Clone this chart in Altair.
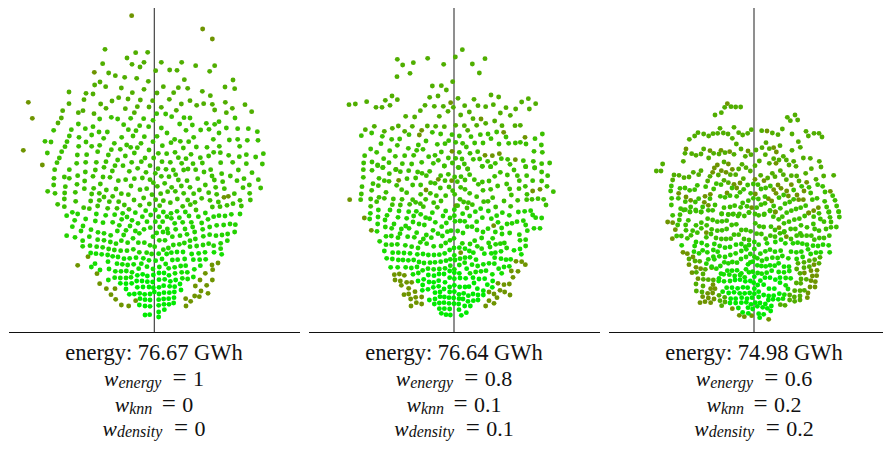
import altair as alt
import pandas as pd

# Point positions: (x, y) in 3x crop units, grouped by colour level.
P1_TOP_L0 = [(395,47),(608,87),(637,117),(85,307),(97,355),(70,451),(283,217),(127,495)]
P1_TOP_L1 = [(315,148),(407,158),(443,157),(381,174),(432,187),(396,193),(420,201),(308,191),(484,187),(545,187),(587,197),(644,197),(629,214),(467,212),(509,210),(531,211),(326,219),(346,227),(374,232),(410,235),(445,244),(300,246),(284,255),(317,260),(553,239),(699,240),(207,276),(258,280),(279,282),(364,264),(432,268),(397,278),(490,260),(535,263),(563,265),(521,278),(471,279),(607,274),(675,261),(704,266),(631,287),(252,299),(356,293),(384,297),(421,300),(458,302),(508,298),(570,302),(207,311),(336,303),(302,312),(318,325),(412,320),(447,321),(376,326),(544,312),(590,316),(611,311),(637,313),(676,307),(735,314),(188,332),(249,332),(235,338),(282,341),(403,338),(484,322),(529,331),(644,330),(697,325),(679,338),(755,335),(184,354),(174,369)]
P1_TOP_L2 = [(299,357),(334,352),(353,357),(392,355),(431,356),(470,341),(497,342),(515,350),(552,353),(570,354),(705,354),(235,372),(214,389),(161,391),(256,386),(279,380),(371,374),(419,377),(446,380),(459,361),(539,372),(577,375),(619,370),(644,373),(657,365),(484,384),(602,390),(627,388),(679,384),(713,386),(745,386),(772,395),(297,396),(322,396),(385,389),(408,392),(501,399),(558,391),(657,399),(275,405),(208,408),(135,424),(153,426),(237,412),(311,415),(365,412),(399,408),(433,410),(471,409),(524,418),(581,412),(640,418),(688,420),(713,418),(742,421),(774,421),(201,425),(258,426),(343,430),(423,430),(459,425),(513,428),(541,424),(566,425),(195,440),(236,439),(275,439),(299,436),(380,435),(392,442),(412,443),(487,437),(589,441),(621,442),(658,439),(719,439),(185,455),(142,459),(293,455),(334,449),(361,448),(447,450),(550,444),(525,457),(475,460),(500,461),(641,457),(661,458),(790,461),(178,474),(232,465),(260,464),(325,465),(376,468),(403,459),(435,474),(461,474),(535,473),(573,463),(601,473),(626,468),(686,466),(718,470),(739,464),(767,471),(558,476),(171,488),(230,490),(257,487),(289,487),(318,485),(353,480),(395,487),(424,485),(486,485),(511,487),(545,490),(579,491),(607,489),(662,488),(698,487),(739,491),(787,492)]
P1_BOT_L0 = [(233,301),(264,275),(291,326),(299,356),(319,371),(345,371),(333,389),(347,403),(364,420),(386,423),(407,407),(603,378),(624,385),(598,395),(584,393),(572,409),(557,401),(558,423),(586,363),(620,361),(637,345),(600,345),(616,325),(654,294),(636,300),(638,314),(672,97),(685,94)]
P1_BOT_L2 = [(164,14),(208,14),(256,21),(286,15),(312,7),(337,18),(345,2),(369,2),(388,19),(413,10),(438,22),(450,2),(466,25),(474,11),(498,13),(520,15),(527,29),(551,15),(564,12),(587,14),(612,21),(632,14),(665,26),(715,15),(756,23),(162,40),(193,36),(208,40),(233,32),(254,48),(279,34),(309,36),(330,37),(355,47),(377,44),(403,41),(427,39),(450,44),(460,53),(484,34),(507,35),(494,55),(535,45),(561,47),(593,41),(636,33),(643,45),(668,50),(691,33),(711,47),(732,41),(775,44),(161,60),(196,65),(231,58),(301,57),(393,63),(472,64),(515,67),(544,63),(570,67),(598,75),(616,60),(647,67),(673,71),(729,68),(748,60),(782,69),(143,79),(165,85),(194,84),(226,82),(253,71),(281,70),(275,87),(298,85),(319,75),(348,72),(364,86),(385,89),(420,74),(440,71),(456,89),(482,86),(503,80),(526,79),(551,85),(581,86),(626,83),(650,88),(703,86),(749,85),(751,105),(720,106),(193,102),(227,109),(272,108),(298,106),(312,96),(338,94),(402,105),(431,99),(467,104),(490,107),(532,102),(563,105),(605,100),(630,106),(655,111),(173,118),(193,125),(251,128),(268,131),(293,123),(328,110),(356,110),(323,130),(351,130),(373,120),(387,133),(420,121),(448,117),(479,122),(511,113),(548,124),(571,119),(585,112),(588,135),(637,126),(660,125),(681,121),(699,116),(724,123)]
P1_BOT_L3 = [(217,142),(200,152),(233,147),(289,147),(317,151),(344,149),(368,145),(381,156),(406,143),(437,137),(452,150),(466,135),(490,141),(476,155),(513,145),(531,139),(556,141),(567,153),(595,155),(616,144),(641,155),(657,152),(675,153),(694,148),(720,147),(224,166),(257,162),(286,168),(309,173),(338,172),(365,163),(396,166),(427,155),(414,175),(441,170),(466,170),(488,170),(501,155),(514,160),(538,158),(524,175),(548,172),(574,172),(605,174),(624,163),(650,181),(671,180),(690,177),(706,179),(217,185),(249,183),(243,198),(273,194),(294,202),(312,205),(332,211),(358,181),(352,198),(378,196),(390,183),(432,193),(451,188),(406,198),(479,186),(502,192),(489,201),(504,204),(527,193),(555,192),(584,201),(578,186),(629,186),(608,193),(561,208),(540,212),(517,215),(586,222),(610,214),(629,209),(648,212),(666,210),(683,207),(704,201),(200,212),(225,217),(268,215),(293,224),(312,226),(331,231),(348,236),(371,210),(364,227),(383,233),(399,220),(418,205),(415,233),(433,233),(459,215),(470,204),(478,226),(495,226),(682,227),(248,227),(248,244),(270,242),(290,245),(308,247),(326,252),(343,255),(362,257),(381,257),(400,253),(418,262),(450,241),(464,245),(440,263),(455,267),(490,254),(505,249),(520,240),(538,238),(553,234),(570,227),(570,245),(590,243),(609,240),(626,236),(662,235),(662,251),(641,242)]
P1_BOT_L4 = [(272,264),(288,266),(305,268),(323,270),(338,274),(354,276),(372,281),(389,280),(408,278),(430,280),(447,286),(467,287),(476,266),(500,267),(514,263),(531,261),(549,261),(486,282),(517,285),(533,284),(554,282),(575,267),(596,265),(615,262),(642,262),(665,268),(580,284),(599,284),(617,283),(324,290),(285,296),(274,306),(351,296),(367,298),(383,300),(401,298),(424,296),(441,305),(459,312),(478,306),(497,297),(506,310),(524,307),(542,303),(557,302),(601,302),(583,313),(300,315),(327,312),(346,319),(363,319),(379,318),(396,322),(416,311),(562,322),(545,322),(525,325),(325,345),(344,338),(361,339),(378,339),(393,337),(547,340),(563,342),(580,336)]
P1_BOT_L5 = [(412,331),(428,328),(442,333),(460,330),(477,324),(492,324),(507,331),(410,348),(426,348),(442,350),(458,351),(477,344),(494,343),(511,349),(527,345),(361,355),(378,356),(395,355),(412,367),(429,366),(447,366),(460,368),(477,367),(491,362),(509,364),(524,365),(540,357),(378,372),(543,375),(388,388),(403,387),(419,385),(434,388),(450,387),(463,381),(477,387),(492,383),(508,383),(523,381),(420,401),(435,404),(450,405),(476,404),(491,402),(506,401),(522,398),(418,420),(435,423),(450,424),(476,421),(492,418),(507,418),(521,414),(476,441),(493,434),(435,450),(449,449),(476,456)]

P2_TOP_L0 = [(452,308),(365,391),(358,405),(611,397),(543,357),(675,412),(456,454),(555,466),(577,467),(598,461),(646,479),(503,507),(288,508)]
P2_TOP_L1 = [(487,149),(466,171),(292,178),(383,175),(555,176),(308,195),(340,188),(431,193),(517,192),(291,230),(330,220),(538,219),(458,245),(397,258),(424,257),(439,270),(389,292),(414,288),(276,288),(256,301),(292,299),(200,305),(147,314),(166,312),(228,322),(246,322),(270,316),(375,316),(403,319),(430,319),(460,322),(474,295),(494,317),(522,298),(534,317),(557,320),(573,285),(596,291),(580,314),(618,323),(665,306),(685,296),(707,311),(647,327),(688,327),(361,332),(444,334),(508,336),(601,339),(631,346),(317,349),(344,351),(418,349),(482,345),(519,356),(584,363),(557,370),(530,376),(467,376),(493,377),(503,391),(382,378),(407,379),(433,380),(295,378),(223,379),(196,389),(277,385),(253,394),(314,394),(337,379),(606,377),(645,377),(661,376)]
P2_TOP_L2 = [(184,407),(215,399),(247,409),(327,404),(397,397),(422,402),(456,404),(478,408),(513,410),(541,404),(564,402),(590,396),(727,402),(618,411),(573,416),(705,416),(275,418),(299,417),(243,431),(378,423),(292,436),(355,435),(412,433),(435,431),(446,422),(467,427),(488,430),(499,441),(524,429),(549,429),(597,432),(626,430),(646,429),(661,427),(678,432),(724,435),(212,447),(325,445),(350,451),(369,448),(269,452),(230,457),(194,467),(286,469),(314,467),(341,466),(386,470),(405,466),(424,456),(478,457),(510,460),(533,455),(702,454),(727,457),(251,476),(191,489),(216,486),(233,495),(267,488),(307,491),(335,492),(365,487),(400,490),(415,481),(433,498),(445,474),(457,489),(467,475),(486,477),(493,492),(520,478),(539,477),(563,484),(586,490),(604,476),(623,478),(670,482),(700,484),(725,491),(749,489),(572,500),(547,499),(630,493),(677,500),(704,504),(249,502),(476,503)]
P2_BOT_L0 = [(149,104),(193,159),(214,196),(283,329),(298,327),(313,331),(285,345),(301,348),(304,361),(320,352),(335,352),(326,370),(345,380),(312,389),(326,387),(332,402),(347,397),(365,396),(333,423),(349,413),(365,417),(567,407),(582,415),(557,423),(591,398),(582,387),(567,381),(600,376),(614,381),(630,390),(594,355),(612,359),(628,357),(639,337),(654,319),(634,318),(676,299),(665,290),(648,289),(468,122),(581,182),(378,75),(698,78),(720,73),(296,46),(415,43),(455,47),(482,263)]
P2_BOT_L2 = [(190,14),(216,16),(233,2),(248,8),(268,26),(287,14),(301,20),(326,17),(353,21),(366,25),(379,32),(389,19),(433,3),(475,7),(503,12),(547,4),(572,5),(601,22),(642,15),(677,5),(704,8),(725,21),(743,32),(725,48),(698,47),(680,32),(658,47),(652,32),(622,30),(620,57),(584,34),(567,48),(547,51),(523,44),(509,29),(535,58),(495,45),(483,35),(464,36),(472,50),(445,28),(435,47),(422,32),(405,55),(190,37),(237,40),(253,47),(267,49),(321,41),(347,39),(219,56),(235,62),(186,65),(215,76),(184,87),(258,82),(290,61),(338,60),(362,60),(392,53),(421,69),(447,66),(482,67),(495,73),(458,77),(530,95),(549,76),(572,73),(593,63),(629,72),(657,71),(676,64),(741,64),(760,80),(634,90),(305,74),(320,83),(362,88),(391,85),(409,92),(437,92),(464,88),(509,85),(578,98),(612,108),(681,88),(182,104),(212,102),(230,110),(237,97),(253,100),(280,102),(306,103),(338,104),(361,116),(377,103),(423,108),(401,113),(480,103),(491,111),(505,113),(517,119),(551,110),(564,109),(653,106),(680,104),(696,103),(714,101),(731,103),(738,120),(212,124),(277,119),(301,120),(329,118),(347,112),(370,125),(412,127),(473,122),(501,129),(587,126),(632,124)]
P2_BOT_L3 = [(463,134),(542,131),(235,135),(211,145),(270,135),(297,138),(326,140),(349,139),(397,143),(437,138),(526,140),(565,138),(488,146),(607,143),(655,141),(674,139),(692,137),(261,151),(209,162),(234,156),(255,165),(294,157),(320,160),(341,153),(362,148),(377,158),(389,161),(429,153),(450,159),(463,152),(509,153),(547,158),(574,161),(590,152),(628,151),(698,150),(707,158),(725,159),(670,167),(233,177),(256,186),(282,177),(339,171),(357,177),(373,180),(406,172),(439,174),(465,169),(480,168),(494,169),(530,170),(594,172),(621,177),(636,175),(651,170),(677,180),(231,199),(275,190),(304,192),(317,183),(300,206),(327,190),(425,185),(399,196),(453,197),(473,198),(502,185),(516,185),(489,204),(531,195),(564,191),(605,189),(586,201),(549,201),(702,190),(720,190),(682,197),(629,204),(658,209),(258,214),(274,213),(294,218),(323,215),(350,203),(343,217),(379,210),(394,218),(414,206),(427,213),(442,200),(370,222),(239,229),(258,239),(275,239),(292,238),(316,241),(335,245),(354,249),(361,232),(380,236),(401,244),(423,243),(437,234),(450,226),(462,220),(487,235),(510,237),(524,227),(545,219),(566,234),(606,207),(578,220),(613,234),(620,249),(660,226),(677,224),(677,243),(601,236),(587,238),(570,246),(532,244),(545,251)]
P2_BOT_L4 = [(253,258),(278,263),(295,263),(312,264),(330,265),(352,268),(369,267),(385,270),(402,270),(418,269),(434,265),(449,255),(462,249),(478,248),(495,251),(508,258),(520,263),(553,266),(574,265),(586,263),(603,259),(642,256),(660,252),(664,268),(260,280),(277,282),(295,285),(309,285),(325,286),(341,285),(357,291),(372,294),(390,293),(405,292),(422,290),(438,287),(451,283),(463,271),(465,285),(480,281),(495,278),(510,277),(528,284),(584,278),(603,281),(618,284),(632,283),(272,307),(293,307),(317,307),(334,309),(351,306),(384,311),(401,313),(418,312),(435,310),(451,302),(463,313),(478,300),(494,293),(516,299),(533,303),(550,298),(567,295),(583,296),(612,306),(628,304),(596,311),(339,328),(355,324),(368,316),(510,325),(527,321),(543,319),(558,317),(577,328),(605,325)]
P2_BOT_L5 = [(385,330),(402,332),(417,327),(432,327),(449,318),(463,323),(478,325),(500,311),(354,348),(371,343),(387,351),(401,352),(416,347),(435,352),(449,338),(463,341),(480,339),(497,340),(519,338),(537,342),(554,341),(578,348),(368,360),(384,373),(400,367),(416,364),(432,372),(449,366),(463,361),(479,366),(495,366),(507,365),(522,354),(532,371),(562,359),(550,377),(577,367),(367,376),(388,405),(405,402),(420,395),(433,396),(447,398),(461,399),(477,388),(491,385),(505,392),(519,387),(534,390),(550,390),(405,383),(420,381),(449,381),(463,380),(477,401),(489,402),(504,409),(520,407),(534,405),(403,417),(418,414),(432,413),(447,415),(462,416),(476,417),(494,423),(511,423),(418,431),(433,431),(449,432),(477,434),(424,445),(438,449),(451,450),(484,451),(499,443)]

P3_TOP_L0 = [(382,41),(501,123),(258,177),(444,183),(521,173),(529,186),(330,182),(363,181),(389,185),(385,222),(352,225),(343,234),(528,220),(338,247),(364,242),(378,247),(397,238),(465,268),(492,272),(402,283),(420,279),(534,285),(574,284),(620,277),(410,294),(521,299),(543,295),(560,303),(612,303),(691,304),(236,310),(258,321),(272,331),(315,319),(331,313),(381,309),(466,312),(505,326),(528,310),(565,318),(591,315),(596,329),(610,329),(313,337),(325,346),(455,353),(515,333),(526,366),(655,353),(641,362),(626,369)]
P3_TOP_L1 = [(374,52),(393,50),(407,51),(422,51),(364,68),(345,75),(562,82),(585,75),(571,92),(593,90),(360,115),(402,112),(547,117),(454,119),(485,122),(517,129),(534,134),(576,132),(618,124),(625,138),(642,130),(657,130),(666,141),(268,148),(284,138),(294,128),(311,132),(326,138),(339,131),(353,130),(370,129),(384,132),(397,145),(416,128),(428,135),(443,130),(409,162),(498,158),(595,155),(540,167),(601,172),(311,177),(423,177),(468,180),(486,173),(508,176),(576,181),(255,190),(275,191),(288,196),(303,192),(341,190),(357,192),(375,188),(402,193),(436,199),(453,194),(496,194),(326,204),(550,199),(559,210),(537,210),(610,204),(631,205),(658,214),(188,222),(250,214),(372,216),(426,223),(438,233),(465,227),(478,213),(508,220),(521,206),(567,225),(581,214),(588,229),(634,236),(663,231),(169,243),(183,243),(222,255),(237,256),(252,263),(267,261),(280,247),(296,254),(303,242),(391,254),(407,254),(416,237),(451,243),(330,259),(355,255),(482,256),(503,264),(517,250),(525,260),(541,242),(550,254),(574,257),(590,258),(617,250),(671,258),(701,256),(218,270),(323,273),(372,271),(385,278),(430,266),(559,269),(597,273),(648,268)]
P3_TOP_L2 = [(214,288),(292,286),(317,290),(349,281),(363,284),(443,285),(460,282),(474,284),(605,289),(653,284),(668,289),(212,303),(240,295),(255,294),(269,301),(284,299),(341,297),(396,294),(431,298),(483,297),(497,294),(511,288),(581,300),(627,292),(632,309),(675,306),(215,325),(235,325),(256,335),(286,336),(296,326),(330,326),(361,319),(375,322),(390,317),(410,319),(420,307),(452,310),(475,327),(460,325),(445,332),(495,320),(537,323),(551,315),(581,328),(637,329),(651,325),(674,334),(698,317),(705,331),(214,345),(242,356),(256,359),(272,351),(287,360),(308,351),(345,345),(372,353),(390,351),(404,347),(422,352),(428,339),(441,349),(470,353),(483,344),(495,340),(521,348),(541,355),(569,336),(555,341),(510,361),(560,368),(574,362),(588,357),(602,353),(617,347),(680,351),(686,367),(710,348),(716,365),(270,366),(303,366),(325,361),(338,361),(365,371),(385,373),(400,372),(418,372),(447,368),(465,372),(493,372)]
P3_BOT_L0 = [(526,6),(626,9),(203,36),(218,38),(226,59),(319,68),(217,86),(537,53),(559,80),(249,127),(262,131),(279,141),(267,164),(642,164),(288,172),(302,176),(276,188),(335,173),(633,182),(651,181),(613,189),(637,198),(650,197),(294,206),(633,212),(646,215),(339,224),(332,236),(345,236),(645,231),(630,231),(323,250),(338,249),(624,249),(308,260),(325,264),(342,267),(622,263),(300,278),(315,275),(332,278),(397,296),(418,316),(433,320),(455,317),(506,328)]
P3_BOT_L1 = [(267,147),(285,153),(299,154),(594,160),(612,157),(657,160),(644,149),(660,142),(628,152),(590,177),(612,173),(628,170),(600,190),(316,178),(289,187),(309,192),(310,208),(325,209),(340,210),(288,222),(309,228),(289,243),(306,246),(589,219),(603,207),(619,208),(602,220),(584,242),(600,242),(613,241),(583,261),(600,258),(600,270),(584,274),(569,270),(569,255),(357,256),(360,272),(374,262),(375,276),(365,287),(541,284),(555,286)]
P3_BOT_L2 = [(218,16),(240,14),(251,0),(270,5),(288,3),(304,6),(323,26),(338,30),(352,35),(366,34),(380,32),(365,12),(385,14),(399,13),(414,18),(433,18),(447,7),(476,16),(492,14),(510,3),(520,20),(547,20),(536,28),(567,35),(552,40),(583,29),(598,26),(614,18),(641,20),(657,10),(661,27),(687,5),(690,22),(716,5),(718,21),(693,36),(709,51),(672,35),(678,57),(233,45),(238,30),(265,31),(257,45),(258,61),(288,46),(304,38),(320,46),(304,55),(335,58),(352,62),(366,61),(380,57),(395,45),(409,43),(424,60),(438,60),(452,64),(466,40),(478,49),(491,51),(513,50),(525,60),(553,64),(572,57),(586,57),(603,46),(621,52),(640,42),(644,57),(657,62),(693,52),(278,62),(292,68),(273,76),(230,78),(244,78),(262,85),(319,82),(333,72),(348,84),(364,87),(378,87),(392,86),(402,74),(416,74),(432,87),(447,90),(470,71),(484,72),(497,86),(511,77),(525,80),(540,70),(552,67),(590,77),(605,77),(620,77),(634,77),(573,87),(601,70),(643,89),(658,84),(672,84),(688,77)]
P3_BOT_L3 = [(288,96),(305,99),(284,108),(245,106),(321,106),(343,102),(359,108),(375,113),(390,111),(408,104),(424,102),(436,110),(447,105),(463,96),(476,104),(501,100),(526,96),(543,89),(556,100),(579,100),(593,98),(607,101),(621,104),(639,107),(654,108),(669,104),(686,106),(282,125),(297,130),(308,121),(322,127),(340,120),(353,125),(358,139),(375,141),(391,135),(407,130),(424,123),(439,118),(451,132),(463,117),(481,131),(496,124),(510,119),(525,125),(542,122),(573,125),(589,127),(604,125),(624,118),(632,132),(648,128),(662,127),(689,127),(340,140),(325,148),(343,148),(319,161),(335,170),(349,176),(361,168),(373,157),(385,160),(397,156),(411,158),(423,147),(438,141),(451,157),(463,140),(472,145),(486,152),(500,147),(517,143),(533,144),(547,138),(565,145),(590,147),(608,141)]
P3_BOT_L4 = [(363,191),(382,182),(396,182),(411,181),(424,190),(438,178),(444,163),(458,155),(472,166),(484,168),(497,169),(510,166),(524,167),(536,160),(552,170),(567,170),(371,193),(357,205),(388,194),(404,198),(420,195),(434,202),(447,187),(458,185),(473,189),(485,191),(500,188),(515,182),(536,186),(552,187),(568,183),(356,213),(372,214),(390,213),(557,204),(572,205),(380,233),(557,226),(564,237),(368,245),(553,254),(549,266)]
P3_BOT_L5 = [(405,210),(420,209),(436,214),(451,213),(463,200),(481,212),(495,203),(510,203),(526,209),(540,203),(396,233),(413,235),(429,232),(443,233),(461,218),(473,225),(491,224),(507,236),(523,236),(540,218),(386,249),(402,247),(419,250),(434,250),(449,249),(463,236),(476,245),(491,255),(506,258),(521,257),(538,251),(392,266),(407,266),(425,263),(441,266),(456,263),(463,251),(476,261),(505,270),(519,268),(535,268),(390,279),(407,279),(424,278),(439,277),(453,283),(466,278),(480,279),(496,282),(514,288),(415,294),(444,293),(458,297),(472,289),(488,292),(502,295),(428,307),(512,303),(445,310),(476,311),(491,313),(479,323)]

# Each crop: left edge, top edge of the crop in the picture, and its lists by colour level.
CROPS = [
    (0, 0, {0: P1_TOP_L0, 1: P1_TOP_L1, 2: P1_TOP_L2}),
    (0, 165, {0: P1_BOT_L0, 2: P1_BOT_L2, 3: P1_BOT_L3, 4: P1_BOT_L4, 5: P1_BOT_L5}),
    (300, 0, {0: P2_TOP_L0, 1: P2_TOP_L1, 2: P2_TOP_L2}),
    (300, 165, {0: P2_BOT_L0, 2: P2_BOT_L2, 3: P2_BOT_L3, 4: P2_BOT_L4, 5: P2_BOT_L5}),
    (600, 90, {0: P3_TOP_L0, 1: P3_TOP_L1, 2: P3_TOP_L2}),
    (600, 210, {0: P3_BOT_L0, 1: P3_BOT_L1, 2: P3_BOT_L2, 3: P3_BOT_L3, 4: P3_BOT_L4, 5: P3_BOT_L5}),
]

CENTERS = [154.3, 454, 754]
LEFTS = [9, 309, 609]
RIGHTS = [300, 600, 883]
ENERGIES = ["energy: 76.67 GWh", "energy: 76.64 GWh", "energy: 74.98 GWh"]
W_VALUES = [("1", "0", "0"), ("0.8", "0.1", "0.1"), ("0.6", "0.2", "0.2")]
SUBSCRIPTS = ["energy", "knn", "density"]
SUB_WIDTHS = [46.5, 25, 49.5]
ROW_Y = [386, 412, 435.5]
LEVEL_COLORS = ["#6e9400", "#50ae00", "#3cbf00", "#24d200", "#14df00", "#00ea00"]
FONT = "Liberation Serif"
X0, X1, Y0, Y1 = 8, 883, 8, 441

rows = []
for ox, oy, levels in CROPS:
    for level, pts in levels.items():
        for zx, zy in pts:
            rows.append({"x": ox + zx / 3, "y": oy + zy / 3, "level": level})
pts_df = pd.DataFrame(rows)

xs = alt.X("x:Q", scale=alt.Scale(domain=[X0, X1], nice=False, zero=False), axis=None)
ys = alt.Y("y:Q", scale=alt.Scale(domain=[Y1, Y0], nice=False, zero=False), axis=None)

vlines = alt.Chart(pd.DataFrame({"x": CENTERS, "y": [Y0] * 3, "y2": [332.5] * 3})).mark_rule(
    color="#333333", strokeWidth=1.1).encode(x=xs, y=ys, y2="y2:Q")
points = alt.Chart(pts_df).mark_circle(size=24, opacity=1).encode(
    x=xs, y=ys,
    color=alt.Color("level:O", scale=alt.Scale(domain=list(range(6)), range=LEVEL_COLORS), legend=None))
hlines = alt.Chart(pd.DataFrame({"x": LEFTS, "x2": RIGHTS, "y": [332.5] * 3})).mark_rule(
    color="#111111", strokeWidth=1).encode(x=xs, x2="x2:Q", y=ys)

heads, ws, subs, eqs, vals = [], [], [], [], []
for c, e, values in zip([154, 454, 754], ENERGIES, W_VALUES):
    heads.append({"x": c, "y": 360, "s": e})
    for sub, sw, py, v in zip(SUBSCRIPTS, SUB_WIDTHS, ROW_Y, values):
        vw = 11 if len(v) == 1 else 27.5
        total = 14.5 + sw + 6 + 17 + 5 + vw
        a = c - total / 2
        ws.append({"x": a, "y": py, "s": "w"})
        subs.append({"x": a + 14.5, "y": py + 1.5, "s": sub})
        eqs.append({"x": a + 14.5 + sw + 7.5, "y": py, "s": "="})
        vals.append({"x": a + 14.5 + sw + 6 + 17 + 5, "y": py, "s": v})


def text_layer(rows_, size, style="normal", align="left"):
    return alt.Chart(pd.DataFrame(rows_)).mark_text(
        font=FONT, fontSize=size, fontStyle=style, align=align, baseline="alphabetic",
        color="#111111").encode(x=xs, y=ys, text="s:N")


chart = alt.layer(
    vlines, points, hlines,
    text_layer(heads, 22.5, align="center"),
    text_layer(ws, 21.5, style="italic"),
    text_layer(subs, 16, style="italic"),
    text_layer(eqs, 25),
    text_layer(vals, 22),
).properties(
    width=X1 - X0, height=Y1 - Y0, padding=0, background="white",
    autosize=alt.AutoSizeParams(type="none"),
).configure_view(stroke=None)

chart.save("out.html", embed_options={"renderer": "svg", "actions": False})
